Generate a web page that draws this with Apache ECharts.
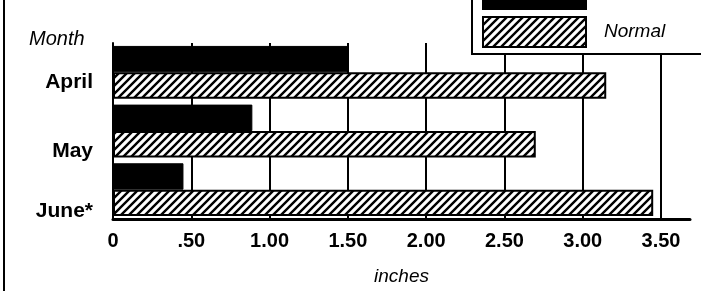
<!DOCTYPE html>
<html lang="en">
<head>
    <meta charset="UTF-8">
    <title>Rainfall</title>
    <script src="https://cdnjs.cloudflare.com/ajax/libs/echarts/6.0.0/echarts.min.js"></script>
    <style>
        html, body { margin: 0; padding: 0; background: #fff; }
    </style>
</head>
<body>
<div id="container" style="width: 701px;height: 291px"></div>
</body>
<script>
    var months = ['April', 'May', 'June*'];
    var rain1990 = [1.50, 0.89, 0.45];
    var rainNormal = [3.15, 2.70, 3.45];
    var seriesNames = ['1990', 'Normal'];

    // hatch tile "/"
    var tile = document.createElement('canvas');
    tile.width = 8; tile.height = 8;
    var ctx = tile.getContext('2d');
    ctx.fillStyle = '#fff';
    ctx.fillRect(0, 0, 8, 8);
    ctx.strokeStyle = '#000';
    ctx.lineWidth = 2.4;
    ctx.beginPath();
    ctx.moveTo(-1, 9); ctx.lineTo(9, -1);
    ctx.moveTo(-1, 1); ctx.lineTo(1, -1);
    ctx.moveTo(7, 9); ctx.lineTo(9, 7);
    ctx.stroke();

    // per-label vertical shift (labels sit a bit low in the original)
    var labelPad = { a: 20, b: 40, c: 44 };
    var keys = ['a', 'b', 'c'];
    var rich = {};
    keys.forEach(function (k) {
        rich[k] = {
            fontFamily: 'Liberation Sans', fontWeight: 'bold', fontSize: 21, color: '#000',
            padding: [labelPad[k], 0, 0, 0]
        };
    });

    // axis runs a little past 3.50, no grid line at its end
    var gridColors = ['#000', '#000', '#000', '#000', '#000', '#000', '#000', '#000', 'rgba(0,0,0,0)'];

    var myChart = echarts.init(document.getElementById('container'));
    var font = 'Liberation Sans';
    var option = {
        backgroundColor: '#fff',
        animation: false,
        title: {
            text: 'Month',
            left: 29, top: 29, padding: 0,
            textStyle: { fontFamily: font, fontStyle: 'italic', fontWeight: 'normal', fontSize: 20, color: '#000' }
        },
        legend: {
            orient: 'vertical',
            left: 472, top: -28,
            padding: [6, 40, 6, 10],
            itemWidth: 103, itemHeight: 30, itemGap: 6,
            borderColor: '#000', borderWidth: 2,
            backgroundColor: '#fff',
            icon: 'rect',
            data: seriesNames,
            textStyle: { fontFamily: font, fontStyle: 'italic', fontSize: 19, color: '#000', padding: [0, 0, 0, 13] }
        },
        grid: { left: 113, right: 11, top: 43, bottom: 69, containLabel: false },
        xAxis: {
            type: 'value', min: 0, max: 3.685, interval: 0.5,
            name: 'inches', nameLocation: 'middle', nameGap: 48,
            nameTextStyle: { fontFamily: font, fontStyle: 'italic', fontSize: 19, color: '#000' },
            axisLine: { show: true, lineStyle: { color: '#000', width: 3 } },
            axisTick: { show: false },
            splitLine: { show: true, lineStyle: { color: gridColors, width: 2 } },
            axisLabel: {
                margin: 12, color: '#000', fontFamily: font, fontWeight: 'bold', fontSize: 20,
                showMaxLabel: false,
                formatter: function (v) {
                    if (v > 3.5) return '';
                    return v === 0 ? '0' : v.toFixed(2).replace(/^0/, '');
                }
            }
        },
        yAxis: {
            type: 'category', inverse: true, data: months,
            axisLine: { show: true, lineStyle: { color: '#000', width: 2 } },
            axisTick: { show: false },
            axisLabel: {
                margin: 20,
                formatter: function (v, i) { return '{' + keys[i] + '|' + v + '}'; },
                rich: rich
            }
        },
        graphic: [
            { type: 'line', shape: { x1: 4, y1: 0, x2: 4, y2: 291 }, style: { stroke: '#000', lineWidth: 2 } }
        ],
        series: [{
            type: 'bar', name: seriesNames[0], data: rain1990,
            barGap: 0, barCategoryGap: '10%',
            itemStyle: { color: '#000', borderColor: '#000', borderWidth: 1 }
        }, {
            type: 'bar', name: seriesNames[1], data: rainNormal,
            barGap: 0, barCategoryGap: '10%',
            itemStyle: { color: { image: tile, repeat: 'repeat' }, borderColor: '#000', borderWidth: 2 }
        }]
    };
    myChart.setOption(option);
</script>
</html>
